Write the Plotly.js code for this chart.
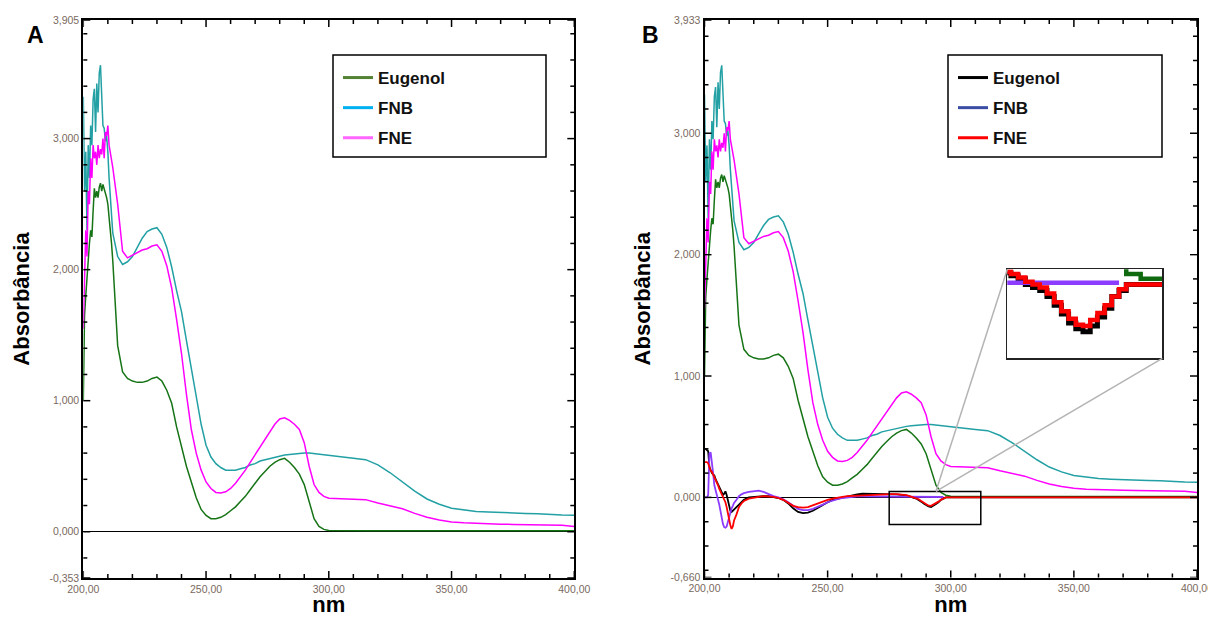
<!DOCTYPE html>
<html>
<head>
<meta charset="utf-8">
<script src="https://cdn.plot.ly/plotly-3.0.1.min.js"></script>
<style>html,body{margin:0;padding:0;background:#fff;}#chart{width:1208px;height:617px;}</style>
</head>
<body>
<div id="chart"></div>
<script>
// ---------------- DATA ----------------
var wlSpec = [200,200.5,201,201.5,202,202.5,203,203.5,204,204.5,205,205.5,206,206.5,207,207.5,208,208.5,209,209.5,210,210.5,211,211.5,212,
  214,216,218,220,222,224,226,228,230,232,234,236,238,240,242,244,246,248,250,252,254,256,258,260,262,264,266,268,270,272,274,276,278,280,282,284,286,288,290,292,294,296,298,300,
  305,310,315,320,325,330,335,340,345,350,355,360,365,370,375,380,385,390,395,400];

var eugenol = [1.0,1.65,1.8,1.95,2.05,2.2,2.3,2.25,2.45,2.62,2.55,2.6,2.55,2.63,2.66,2.6,2.65,2.62,2.58,2.55,2.5,2.42,2.3,2.2,2.07,
  1.42,1.22,1.17,1.15,1.14,1.14,1.15,1.17,1.18,1.15,1.08,0.98,0.8,0.64,0.5,0.38,0.26,0.17,0.125,0.1,0.1,0.11,0.13,0.16,0.19,0.23,0.27,0.32,0.37,0.42,0.46,0.5,0.53,0.55,0.56,0.53,0.49,0.44,0.36,0.22,0.1,0.04,0.018,0.01,
  0.008,0.008,0.008,0.008,0.008,0.008,0.008,0.008,0.008,0.008,0.008,0.008,0.008,0.008,0.008,0.008,0.008,0.008,0.008,0.008];

var fnb = [3.32,2.6,2.9,2.3,2.95,2.7,3.1,2.95,3.3,3.38,3.05,3.42,3.2,3.5,3.56,3.35,3.1,3.08,2.98,3.02,2.9,2.7,2.55,2.38,2.28,
  2.1,2.04,2.06,2.1,2.17,2.24,2.29,2.31,2.32,2.27,2.17,2.02,1.84,1.68,1.46,1.24,1.02,0.82,0.66,0.57,0.52,0.49,0.47,0.47,0.47,0.48,0.49,0.51,0.52,0.54,0.55,0.56,0.57,0.58,0.585,0.59,0.595,0.6,0.6,0.6,0.595,0.59,0.585,0.58,
  0.57,0.56,0.55,0.51,0.45,0.38,0.31,0.25,0.21,0.18,0.165,0.155,0.15,0.145,0.142,0.14,0.138,0.13,0.127,0.125];

var fne = [1.55,1.9,2.3,2.1,2.6,2.5,2.85,2.7,2.95,2.85,2.9,2.8,2.95,2.85,2.92,2.88,3.0,2.85,3.05,3.02,3.1,2.95,2.9,2.85,2.78,
  2.5,2.14,2.09,2.11,2.13,2.15,2.16,2.18,2.19,2.14,2.03,1.86,1.62,1.36,1.05,0.78,0.6,0.47,0.38,0.33,0.3,0.295,0.305,0.33,0.37,0.42,0.47,0.53,0.59,0.65,0.71,0.77,0.82,0.86,0.87,0.85,0.82,0.78,0.68,0.5,0.36,0.3,0.27,0.255,
  0.25,0.25,0.245,0.22,0.2,0.175,0.14,0.11,0.09,0.075,0.068,0.063,0.06,0.058,0.056,0.055,0.054,0.053,0.05,0.04];

var wlDer = [200,200.5,201,201.5,202,202.5,203,203.5,204,204.5,205,205.5,206,206.5,207,207.5,208,208.5,209,209.5,210,210.5,211,211.5,212,
  213,214,215,216,
  218,220,222,224,226,228,230,232,234,236,238,240,242,244,246,248,250,252,254,256,258,260,262,264,266,268,270,272,274,276,278,280,
  281,282,283,284,285,286,287,288,289,290,291,292,293,294,295,296,297,298,299,300,
  310,350,400];

var derEugenol = [0.40,0.40,0.39,0.38,0.25,0.22,0.2,0.19,0.18,0.15,0.13,0.1,0.08,0.06,0.04,0.02,0.03,0.05,0.02,-0.03,-0.08,-0.11,-0.12,-0.11,-0.1,
  -0.08,-0.06,-0.04,-0.02,
  0.0,0.005,0.01,0.01,0.01,0.005,-0.005,-0.02,-0.05,-0.09,-0.12,-0.13,-0.125,-0.11,-0.085,-0.06,-0.04,-0.02,-0.01,0.0,0.01,0.015,0.025,0.03,0.03,0.025,0.025,0.025,0.025,0.03,0.025,0.02,
  0.02,0.015,0.01,0.0,-0.005,-0.01,-0.02,-0.035,-0.05,-0.065,-0.075,-0.08,-0.07,-0.055,-0.04,-0.02,-0.01,0.0,0.0,0.0,
  0,0,0];

var derFnb = [0.0,0.0,0.0,0.02,0.36,0.37,0.3,0.2,0.1,0.05,0.02,-0.02,-0.06,-0.12,-0.18,-0.22,-0.245,-0.25,-0.24,-0.2,-0.15,-0.12,-0.09,-0.07,-0.045,
  -0.02,0.01,0.025,0.035,
  0.045,0.05,0.055,0.045,0.025,0.01,0.0,-0.015,-0.04,-0.07,-0.095,-0.105,-0.105,-0.095,-0.08,-0.06,-0.04,-0.025,-0.015,-0.005,0.0,0.005,0.008,0.008,0.008,0.008,0.008,0.008,0.008,0.008,0.008,0.008,
  0.003,0.003,0.003,0.003,0.003,0.003,0.003,0.003,0.003,0.003,0.003,0.003,0.003,0.003,0.003,0.003,0.003,null,null,null,
  null,null,null];

var derFne = [0.29,0.29,0.29,0.28,0.24,0.22,0.21,0.19,0.17,0.14,0.12,0.1,0.07,0.05,0.03,0.01,-0.01,-0.04,-0.08,-0.12,-0.18,-0.23,-0.26,-0.24,-0.19,
  -0.14,-0.08,-0.05,-0.03,
  -0.01,0.0,0.005,0.01,0.01,0.005,-0.005,-0.02,-0.045,-0.07,-0.08,-0.085,-0.08,-0.065,-0.05,-0.03,-0.02,-0.01,0.0,0.005,0.01,0.012,0.015,0.02,0.022,0.024,0.025,0.025,0.027,0.027,0.027,0.025,
  0.022,0.018,0.012,0.005,0.0,-0.005,-0.015,-0.03,-0.045,-0.058,-0.068,-0.07,-0.06,-0.048,-0.035,-0.02,-0.008,0.0,0.0,0.0,
  0,0,0];

var seriesNames = ['Eugenol','FNB','FNE'];
var xTickVals = [200,250,300,350,400];
var xTickText = ['200,00','250,00','300,00','350,00','400,00'];
var yTickValsA = [-0.353,0,1,2,3,3.905];
var yTickTextA = ['-0,353','0,000','1,000','2,000','3,000','3,905'];
var yTickValsB = [-0.66,0,1,2,3,3.933];
var yTickTextB = ['-0,660','0,000','1,000','2,000','3,000','3,933'];
var zoomBox = {x0:275, x1:312.2, y0:-0.223, y1:0.049, cx:294, cy:0.05};

// ---------------- LAYOUT / STYLE ----------------
var W = 1208, H = 617;
function px(x){return x / W;}
function py(y){return 1 - y / H;}
var cGreen = '#167416', cTeal = '#22a0a4', cMag = '#ff00ff';
var cBlack = '#000000', cPurple = '#8c3cff', cRed = '#ff0000';
var FONT = 'Liberation Sans, Arial, Helvetica, sans-serif';

var domA_x = [px(83.3), px(574.3)], domA_y = [py(578), py(20)];
var domB_x = [px(704.5), px(1197)], domB_y = [py(577.5), py(20)];
var domI_x = [px(1007.3), px(1162.3)], domI_y = [py(358.3), py(269.3)];
var rangeA_y = [-0.353, 3.905], rangeB_y = [-0.66, 3.933];

function baseAxis(extra){
  var a = {
    showline:true, linecolor:'#000', linewidth:2, mirror:true,
    ticks:'', showgrid:false, zeroline:false, fixedrange:true, ticklabeloverflow:'allow',
    tickfont:{family:FONT, size:10.5, color:'#7a6a60'}, tickmode:'array'
  };
  for (var k in extra) a[k] = extra[k];
  return a;
}
var titleFont = {family:FONT, size:22, weight:700, color:'#000'};

var traces = [];
function lineTrace(x, y, color, w, xa, ya, shape){
  return {x:x, y:y, mode:'lines', line:{color:color, width:w, shape:shape || 'linear'}, xaxis:xa, yaxis:ya, showlegend:false, hoverinfo:'skip'};
}
// Panel A
traces.push(lineTrace(wlSpec, eugenol, cGreen, 1.5, 'x', 'y'));
traces.push(lineTrace(wlSpec, fnb, cTeal, 1.5, 'x', 'y'));
traces.push(lineTrace(wlSpec, fne, cMag, 1.5, 'x', 'y'));
// Panel B
traces.push(lineTrace(wlSpec, eugenol, cGreen, 1.5, 'x2', 'y2'));
traces.push(lineTrace(wlSpec, fnb, cTeal, 1.5, 'x2', 'y2'));
traces.push(lineTrace(wlSpec, fne, cMag, 1.5, 'x2', 'y2'));
traces.push(lineTrace(wlDer, derEugenol, cBlack, 1.8, 'x2', 'y2'));
traces.push(lineTrace(wlDer, derFnb, cPurple, 1.8, 'x2', 'y2'));
traces.push(lineTrace(wlDer, derFne, cRed, 1.8, 'x2', 'y2'));
// Inset (magnified view of the boxed region)
traces.push(lineTrace(wlDer, derEugenol, cBlack, 5, 'x3', 'y3', 'hv'));
traces.push(lineTrace(wlDer, derFnb, cPurple, 4.5, 'x3', 'y3', 'hv'));
traces.push(lineTrace(wlSpec, eugenol, '#0f6a0f', 4.5, 'x3', 'y3', 'hv'));
traces.push(lineTrace(wlDer, derFne, cRed, 4.5, 'x3', 'y3', 'hv'));

// Legend entries
var legColsA = ['#548235', '#00b0f0', '#ff66ff'];
var legColsB = ['#000000', '#3a4ca3', '#ff0000'];
for (var i = 0; i < 3; i++) {
  traces.push({x:[null], y:[null], mode:'lines', name:seriesNames[i], line:{color:legColsA[i], width:3},
    xaxis:'x', yaxis:'y', legend:'legend', legendgroup:'a'+i, showlegend:true, hoverinfo:'skip'});
}
for (var j = 0; j < 3; j++) {
  traces.push({x:[null], y:[null], mode:'lines', name:seriesNames[j], line:{color:legColsB[j], width:3},
    xaxis:'x2', yaxis:'y2', legend:'legend2', legendgroup:'b'+j, showlegend:true, hoverinfo:'skip'});
}

function bx(v){ return domB_x[0] + (v - 200) / 200 * (domB_x[1] - domB_x[0]); }
function by(v){ return domB_y[0] + (v - rangeB_y[0]) / (rangeB_y[1] - rangeB_y[0]) * (domB_y[1] - domB_y[0]); }

// Inward tick marks on all four sides (major at labels, minor every 10 nm / 0.2 units)
var shapes = [];
var TK = {color:'#000', width:1.5};
function addTicks(xa, ya, xdom, ydom, yMajor, yRange){
  var k, v, len;
  for (v = 200; v <= 400; v += 10) {
    len = (xTickVals.indexOf(v) >= 0 ? 7 : 4);
    shapes.push({type:'line', xref:xa, yref:'paper', x0:v, x1:v, y0:ydom[0], y1:ydom[0] + len / H, line:TK});
    shapes.push({type:'line', xref:xa, yref:'paper', x0:v, x1:v, y0:ydom[1], y1:ydom[1] - len / H, line:TK});
  }
  var yvals = yMajor.slice();
  for (k = Math.ceil(yRange[0] / 0.2); k <= Math.floor(yRange[1] / 0.2); k++) {
    if (k % 5 !== 0) yvals.push(Math.round(k * 200) / 1000);
  }
  yvals.forEach(function(y){
    len = (yMajor.indexOf(y) >= 0 ? 7 : 4);
    shapes.push({type:'line', xref:'paper', yref:ya, x0:xdom[0], x1:xdom[0] + len / W, y0:y, y1:y, line:TK});
    shapes.push({type:'line', xref:'paper', yref:ya, x0:xdom[1], x1:xdom[1] - len / W, y0:y, y1:y, line:TK});
  });
}
addTicks('x', 'y', domA_x, domA_y, yTickValsA, rangeA_y);
addTicks('x2', 'y2', domB_x, domB_y, yTickValsB, rangeB_y);

shapes.push({type:'rect', xref:'paper', yref:'paper', x0:px(333), x1:px(546), y0:py(157), y1:py(55), line:{color:'#000', width:1.5}});
shapes.push({type:'rect', xref:'paper', yref:'paper', x0:px(948), x1:px(1162), y0:py(157), y1:py(55), line:{color:'#000', width:1.5}});
shapes.push({type:'rect', xref:'x2', yref:'y2', x0:zoomBox.x0, x1:zoomBox.x1, y0:zoomBox.y0, y1:zoomBox.y1, line:{color:'#000', width:1.5}});
shapes.push({type:'line', xref:'paper', yref:'paper', x0:bx(zoomBox.cx), y0:by(zoomBox.cy), x1:domI_x[0], y1:domI_y[1], line:{color:'#b4b4b4', width:1.5}});
shapes.push({type:'line', xref:'paper', yref:'paper', x0:bx(zoomBox.cx), y0:by(zoomBox.cy), x1:domI_x[1], y1:domI_y[0], line:{color:'#b4b4b4', width:1.5}});

var legendFont = {family:FONT, size:17, weight:700, color:'#111'};
var layout = {
  width:W, height:H, autosize:false,
  margin:{l:0, r:0, t:0, b:0, pad:0},
  paper_bgcolor:'#fff', plot_bgcolor:'#fff',
  font:{family:FONT},
  xaxis: baseAxis({domain:domA_x, range:[200,400], anchor:'y', tickvals:xTickVals, ticktext:xTickText,
    title:{text:'nm', font:titleFont, standoff:9}}),
  yaxis: baseAxis({domain:domA_y, range:rangeA_y, anchor:'x', tickvals:yTickValsA, ticktext:yTickTextA,
    zeroline:true, zerolinecolor:'#000', zerolinewidth:1.5,
    title:{text:'Absorbância', font:titleFont, standoff:14}}),
  xaxis2: baseAxis({domain:domB_x, range:[200,400], anchor:'y2', tickvals:xTickVals, ticktext:xTickText,
    title:{text:'nm', font:titleFont, standoff:9}}),
  yaxis2: baseAxis({domain:domB_y, range:rangeB_y, anchor:'x2', tickvals:yTickValsB, ticktext:yTickTextB,
    zeroline:true, zerolinecolor:'#000', zerolinewidth:1.5,
    title:{text:'Absorbância', font:titleFont, standoff:14}}),
  xaxis3: {domain:domI_x, range:[281.5,303], anchor:'y3', showline:true, mirror:true, linecolor:'#222', linewidth:1.5,
    ticks:'', showticklabels:false, showgrid:false, zeroline:false, fixedrange:true},
  yaxis3: {domain:domI_y, range:[-0.125,0.026], anchor:'x3', showline:true, mirror:true, linecolor:'#222', linewidth:1.5,
    ticks:'', showticklabels:false, showgrid:false, zeroline:false, fixedrange:true},
  legend: {x:px(338), xanchor:'left', y:py(60), yanchor:'top', bgcolor:'rgba(0,0,0,0)', borderwidth:0,
    font:legendFont, traceorder:'grouped', tracegroupgap:5},
  legend2: {x:px(953), xanchor:'left', y:py(60), yanchor:'top', bgcolor:'rgba(0,0,0,0)', borderwidth:0,
    font:legendFont, traceorder:'grouped', tracegroupgap:5},
  shapes: shapes,
  annotations: [
    {text:'A', xref:'paper', yref:'paper', x:px(35), y:py(35), xanchor:'center', yanchor:'middle', showarrow:false,
      font:{family:FONT, size:23, weight:700, color:'#000'}},
    {text:'B', xref:'paper', yref:'paper', x:px(650), y:py(35), xanchor:'center', yanchor:'middle', showarrow:false,
      font:{family:FONT, size:23, weight:700, color:'#000'}}
  ]
};

Plotly.newPlot('chart', traces, layout, {staticPlot:true, displayModeBar:false});
</script>
</body>
</html>
